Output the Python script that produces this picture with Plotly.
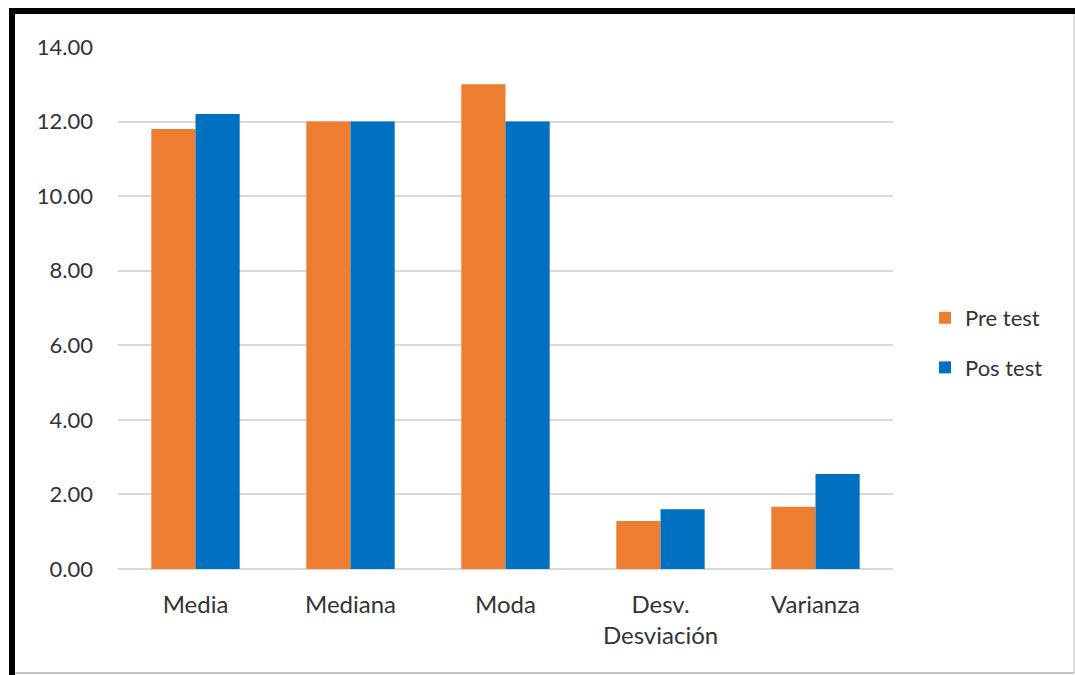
import plotly.graph_objects as go

categories = ["Media", "Mediana", "Moda", "Desv.<br>Desviación", "Varianza"]
pre_test = [11.8, 12.0, 13.0, 1.29, 1.67]
pos_test = [12.2, 12.0, 12.0, 1.60, 2.55]
series_names = ["Pre test", "Pos test"]
colors = ["#ED7D31", "#0070C0"]

W, H = 1075, 675
L, R, T, B = 118, 893, 47, 569

def px(x):
    return (x - L) / (R - L)

def py(y):
    return (B - y) / (B - T)

FONT = "Lato"
fig = go.Figure()
for name, vals, c in zip(series_names, [pre_test, pos_test], colors):
    fig.add_trace(go.Bar(x=categories, y=vals, name=name, marker_color=c,
                         marker_line_width=0, legendgroup=name))

shapes = [
    dict(type="rect", xref="paper", yref="paper", x0=px(9), x1=px(15), y0=py(675), y1=py(8),
         fillcolor="black", line_width=0, layer="above"),
    dict(type="rect", xref="paper", yref="paper", x0=px(9), x1=px(1075), y0=py(14), y1=py(8),
         fillcolor="black", line_width=0, layer="above"),
    dict(type="line", xref="paper", yref="paper", x0=px(1074), x1=px(1074), y0=py(673), y1=py(14),
         line=dict(color="#D0D0D0", width=1.5), layer="above"),
    dict(type="line", xref="paper", yref="paper", x0=px(15), x1=px(1074), y0=py(673), y1=py(673),
         line=dict(color="#B0B0B0", width=1.5), layer="above"),
]

fig.update_layout(
    width=W, height=H,
    margin=dict(l=L, r=W - R, t=T, b=H - B, pad=0),
    paper_bgcolor="white", plot_bgcolor="white",
    barmode="group", bargap=0.43, bargroupgap=0,
    font=dict(family=FONT, size=22, color="#333333"),
    legend=dict(x=px(925), y=py(343), xanchor="left", yanchor="middle",
                font=dict(size=22), traceorder="grouped", tracegroupgap=18,
                itemwidth=30),
    shapes=shapes,
    xaxis=dict(showgrid=False, showline=False, ticks="", ticklabelstandoff=19,
               tickfont=dict(size=24)),
    yaxis=dict(range=[0, 14], dtick=2, tickformat=".2f", showgrid=True,
               gridcolor="#D9D9D9", gridwidth=2, zeroline=True, zerolinecolor="#D9D9D9",
               zerolinewidth=2, showline=False, ticks="", ticklabelstandoff=24),
)

fig.write_html("out.html")
